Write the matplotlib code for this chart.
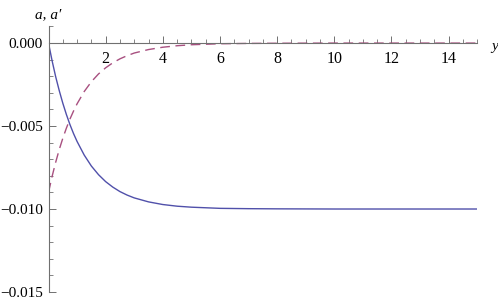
import matplotlib.pyplot as plt
from matplotlib import font_manager
from matplotlib.ticker import MultipleLocator, FuncFormatter

# values
y_vals = [0, 0.125, 0.25, 0.375, 0.5, 0.625, 0.75, 0.875, 1.0, 1.25, 1.5, 1.75,
          2.0, 2.25, 2.5, 2.75, 3.0, 3.5, 4.0, 4.5, 5.0, 6.0, 7.0, 8.0, 10.0, 12.0, 15.0]
a_vals = [0.0, -1.06, -2.02, -2.86, -3.62, -4.30, -4.91, -5.45, -5.93, -6.75, -7.41, -7.93,
          -8.35, -8.68, -8.95, -9.16, -9.33, -9.57, -9.73, -9.83, -9.89, -9.96, -9.98, -9.99,
          -10.0, -10.0, -10.0]
ap_vals = [-9.0, -8.04, -7.19, -6.42, -5.74, -5.13, -4.58, -4.10, -3.66, -2.92, -2.33, -1.86,
           -1.49, -1.19, -0.95, -0.76, -0.60, -0.39, -0.25, -0.16, -0.10, -0.04, -0.02, -0.01,
           0.0, 0.0, 0.0]

a = [v * 1e-3 for v in a_vals]
ap = [v * 1e-3 for v in ap_vals]

names = {f.name for f in font_manager.fontManager.ttflist}
serif = "Liberation Serif" if "Liberation Serif" in names else "DejaVu Serif"
plt.rcParams["font.family"] = serif

fig = plt.figure(figsize=(4.98, 3.01), dpi=100)
ax = fig.add_axes([0.0974, 0.030, 0.8606, 0.882])

ax.plot(y_vals, a, color="#5050aa", lw=1.0)
ax.plot(y_vals, ap, color="#a85080", lw=1.0, dashes=(7, 4))

ax.set_xlim(0, 15)
ax.set_ylim(-0.015, 0.001)

axis_col = "#707070"
ax.spines["top"].set_visible(False)
ax.spines["right"].set_visible(False)
ax.spines["bottom"].set_position(("data", 0))
ax.spines["left"].set_color(axis_col)
ax.spines["bottom"].set_color(axis_col)
ax.spines["left"].set_linewidth(0.8)
ax.spines["bottom"].set_linewidth(0.8)

ax.xaxis.set_major_locator(MultipleLocator(2))
ax.xaxis.set_minor_locator(MultipleLocator(0.5))
ax.yaxis.set_major_locator(MultipleLocator(0.005))
ax.yaxis.set_minor_locator(MultipleLocator(0.001))

ax.xaxis.set_major_formatter(FuncFormatter(lambda v, p: "" if v == 0 else f"{v:g}"))
ax.yaxis.set_major_formatter(FuncFormatter(lambda v, p: f"{v:.3f}".replace("-", "\u2212")))

ax.tick_params(axis="x", which="major", direction="in", length=5, width=0.7,
               color=axis_col, labelsize=11.5, pad=5.5)
ax.tick_params(axis="x", which="minor", direction="in", length=3, width=0.6, color=axis_col)
ax.tick_params(axis="y", which="major", direction="in", length=5, width=0.7,
               color=axis_col, labelsize=11, pad=4)
ax.tick_params(axis="y", which="minor", direction="in", length=3, width=0.6, color=axis_col)

fig.text(0.070, 0.950, "a, a\u2032", fontsize=11, style="italic", ha="left", va="center")
fig.text(0.986, 0.845, "y", fontsize=11, style="italic", ha="left", va="center")

fig.savefig("out.png", dpi=100)
